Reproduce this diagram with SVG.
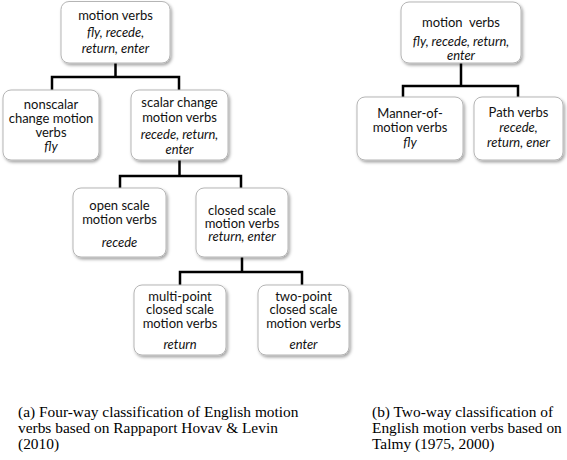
<svg xmlns="http://www.w3.org/2000/svg" width="567" height="460" viewBox="0 0 567 460">
<style>
.box{fill:#fff;stroke:#b5b5b5;stroke-width:1;filter:url(#sh)}
.t{font-family:Lato,"Open Sans","Noto Sans",sans-serif;font-size:13px;fill:#111;text-anchor:middle}
.i{font-style:italic}
.cap{font-family:"Liberation Serif","Times New Roman",serif;font-size:15.4px;fill:#000}
.conn{fill:none;stroke:#000;stroke-width:2.5;stroke-linejoin:miter}
</style>
<defs>
<filter id="sh" x="-10%" y="-10%" width="125%" height="130%">
<feDropShadow dx="1.5" dy="2" stdDeviation="1.5" flood-color="#000" flood-opacity="0.35"/>
</filter>
</defs>
<rect width="567" height="460" fill="#fff"/>
<g id="connectors">
<path class="conn" d="M115.5 63V77M52 90V77H179V90"/>
<path class="conn" d="M179.5 160V176M120 188V176H241V188"/>
<path class="conn" d="M242 257V272M180 285V272H302V285"/>
<path class="conn" d="M461 63V86M403 97V86H518V97"/>
</g>
<g id="a-root">
<rect class="box" x="61" y="1.5" width="109" height="61.5" rx="8"/>
<text class="t" x="115.5" y="20">motion verbs</text>
<text class="t i" x="115.5" y="37">fly, recede,</text>
<text class="t i" x="115.5" y="53">return, enter</text>
</g>
<g id="a-nonscalar">
<rect class="box" x="3" y="90" width="96" height="70" rx="8"/>
<text class="t" x="51" y="109">nonscalar</text>
<text class="t" x="51" y="123">change motion</text>
<text class="t" x="51" y="137">verbs</text>
<text class="t i" x="51" y="151">fly</text>
</g>
<g id="a-scalar">
<rect class="box" x="131" y="90" width="97" height="70" rx="8"/>
<text class="t" x="179.5" y="107">scalar change</text>
<text class="t" x="179.5" y="122">motion verbs</text>
<text class="t i" x="179.5" y="139">recede, return,</text>
<text class="t i" x="179.5" y="154">enter</text>
</g>
<g id="a-open">
<rect class="box" x="73" y="188" width="93" height="69" rx="8"/>
<text class="t" x="119.5" y="210">open scale</text>
<text class="t" x="119.5" y="224">motion verbs</text>
<text class="t i" x="119.5" y="247">recede</text>
</g>
<g id="a-closed">
<rect class="box" x="196" y="188" width="92" height="69" rx="8"/>
<text class="t" x="242" y="215">closed scale</text>
<text class="t" x="242" y="228">motion verbs</text>
<text class="t i" x="242" y="241">return, enter</text>
</g>
<g id="a-multipoint">
<rect class="box" x="134" y="285" width="92" height="70" rx="8"/>
<text class="t" x="180" y="301">multi-point</text>
<text class="t" x="180" y="314">closed scale</text>
<text class="t" x="180" y="328">motion verbs</text>
<text class="t i" x="180" y="349">return</text>
</g>
<g id="a-twopoint">
<rect class="box" x="258" y="285" width="91" height="70" rx="8"/>
<text class="t" x="303.5" y="301">two-point</text>
<text class="t" x="303.5" y="314">closed scale</text>
<text class="t" x="303.5" y="328">motion verbs</text>
<text class="t i" x="303.5" y="349">enter</text>
</g>
<g id="b-root">
<rect class="box" x="401" y="2" width="120" height="61" rx="8"/>
<text class="t" x="461" y="27" xml:space="preserve">motion  verbs</text>
<text class="t i" x="461" y="46">fly, recede, return,</text>
<text class="t i" x="461" y="60">enter</text>
</g>
<g id="b-manner">
<rect class="box" x="357" y="97" width="106" height="63" rx="8"/>
<text class="t" x="410" y="118">Manner-of-</text>
<text class="t" x="410" y="132">motion verbs</text>
<text class="t i" x="410" y="147">fly</text>
</g>
<g id="b-path">
<rect class="box" x="474" y="97" width="89" height="63" rx="8"/>
<text class="t" x="518.5" y="117">Path verbs</text>
<text class="t i" x="518.5" y="132">recede,</text>
<text class="t i" x="518.5" y="147">return, ener</text>
</g>
<g id="captions">
<text class="cap" x="18" y="417">(a) Four-way classification of English motion</text>
<text class="cap" x="18" y="433">verbs based on Rappaport Hovav &amp; Levin</text>
<text class="cap" x="18" y="449">(2010)</text>
<text class="cap" x="372" y="417">(b) Two-way classification of</text>
<text class="cap" x="372" y="433">English motion verbs based on</text>
<text class="cap" x="372" y="449">Talmy (1975, 2000)</text>
</g>
</svg>
